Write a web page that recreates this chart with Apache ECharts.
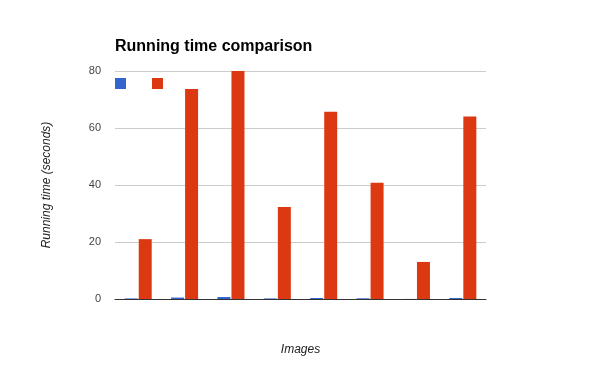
<!DOCTYPE html>
<html><head><meta charset="utf-8">
<script src="https://cdn.jsdelivr.net/npm/echarts@6/dist/echarts.min.js"></script>
<style>html,body{margin:0;padding:0;background:#fff}#c{width:600px;height:371px}</style>
</head><body><div id="c"></div>
<script>
const categories = ['1','2','3','4','5','6','7','8'];
const seriesANames = 'A';
const seriesBNames = 'B';
const seriesA = [0.2, 0.5, 0.7, 0.2, 0.35, 0.25, 0.02, 0.35];
const seriesB = [21, 73.7, 80, 32.3, 65.7, 40.8, 13, 64];
const yTicks = [0, 20, 40, 60, 80];

const chart = echarts.init(document.getElementById('c'));
chart.setOption({
  animation: false,
  textStyle: { fontFamily: 'Liberation Sans, Arial, sans-serif' },
  title: {
    text: 'Running time comparison', left: 110, top: 34,
    textStyle: { fontSize: 16, fontWeight: 'bold', color: '#000', fontFamily: 'Liberation Sans, Arial, sans-serif' }
  },
  legend: {
    left: 110, top: 73, itemWidth: 11, itemHeight: 11, itemGap: 26, icon: 'rect',
    formatter: function(){ return ''; }, textStyle: { fontSize: 1 },
    data: [seriesANames, seriesBNames]
  },
  grid: { left: 115, right: 114, top: 71, bottom: 72 },
  xAxis: {
    type: 'category', data: categories,
    name: 'Images', nameLocation: 'middle', nameGap: 45,
    nameTextStyle: { fontStyle: 'italic', fontSize: 12, color: '#222' },
    axisLine: { lineStyle: { color: '#333', width: 1 } },
    axisTick: { show: false }, axisLabel: { show: false }
  },
  yAxis: {
    type: 'value', min: yTicks[0], max: yTicks[yTicks.length-1], interval: 20,
    name: 'Running time (seconds)', nameLocation: 'middle', nameGap: 62, nameRotate: 90,
    nameTextStyle: { fontStyle: 'italic', fontSize: 12, color: '#222' },
    axisLine: { show: false }, axisTick: { show: false },
    axisLabel: { margin: 14, color: '#444', fontSize: 11 },
    splitLine: { lineStyle: { color: '#ccc' } }
  },
  series: [
    { name: seriesANames, type: 'bar', data: seriesA, barWidth: 13, barGap: '8%', itemStyle: { color: '#3366cc' } },
    { name: seriesBNames, type: 'bar', data: seriesB, barWidth: 13, itemStyle: { color: '#dc3912' } }
  ]
});
</script></body></html>
